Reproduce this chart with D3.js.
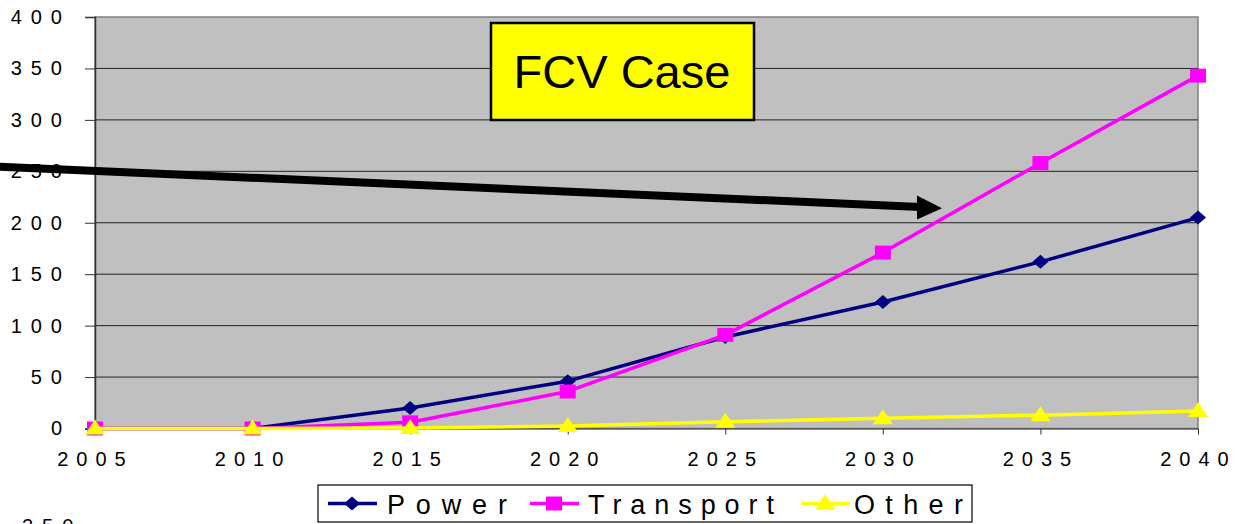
<!DOCTYPE html>
<html><head><meta charset="utf-8">
<script src="https://cdn.jsdelivr.net/npm/d3@7"></script>
<style>
html,body{margin:0;padding:0;background:#fff;}
svg{display:block;font-family:"Liberation Sans",Arial,sans-serif;}
</style></head>
<body><svg id="c" width="1237" height="524"></svg>
<script>
const years = [2005, 2010, 2015, 2020, 2025, 2030, 2035, 2040];
const power = [0, 0, 20, 46, 89, 123, 162, 205];
const transport = [0, 0, 6, 36, 91, 171, 258, 343];
const other = [0, 0, 0.5, 2.5, 6.5, 10, 13, 17];
const yTicks = [0, 50, 100, 150, 200, 250, 300, 350, 400];
const seriesNames = ["Power", "Transport", "Other"];
const titleText = "FCV Case";

const svg = d3.select("#c");
const L = 95, R = 1198, T = 17, B = 428.5;
const x = d3.scaleLinear().domain([2005, 2040]).range([L, R]);
const y = d3.scaleLinear().domain([0, 400]).range([B, T]);

// plot background
svg.append("rect").attr("x", L).attr("y", T).attr("width", R - L).attr("height", B - T)
  .attr("fill", "#C0C0C0").attr("stroke", "#808080").attr("stroke-width", 1.5);

// gridlines
svg.append("g").selectAll("line").data(yTicks.filter(d => d > 0 && d < 400)).join("line")
  .attr("x1", L).attr("x2", R).attr("y1", d => y(d)).attr("y2", d => y(d))
  .attr("stroke", "#222").attr("stroke-width", 1);

// y axis
const ya = svg.append("g").attr("transform", `translate(${L},0)`)
  .call(d3.axisLeft(y).tickValues(yTicks).tickSize(10).tickPadding(14).tickFormat(d => String(d)));
ya.select(".domain").attr("stroke", "#333").attr("stroke-width", 1.5);
ya.selectAll(".tick line").attr("stroke", "#333");
ya.selectAll("text").attr("font-size", 20).attr("fill", "#000")
  .style("letter-spacing", "9px").attr("font-family", "Liberation Sans, Arial, sans-serif");

// x axis
const xa = svg.append("g").attr("transform", `translate(0,${B})`)
  .call(d3.axisBottom(x).tickValues(years).tickSize(6).tickPadding(17).tickFormat(d => String(d)));
xa.select(".domain").attr("stroke", "#333");
xa.selectAll(".tick line").attr("stroke", "#333");
xa.selectAll("text").attr("font-size", 20).attr("fill", "#000")
  .style("letter-spacing", "8px").attr("font-family", "Liberation Sans, Arial, sans-serif");

const line = d3.line().x((d, i) => x(years[i])).y(d => y(d));
const colors = ["#000080", "#FF00FF", "#FFFF00"];
const data = [power, transport, other];

function marker(g, type, cx, cy, color) {
  if (type === 0) {
    g.append("path").attr("d", `M${cx - 8},${cy}L${cx},${cy - 7}L${cx + 8},${cy}L${cx},${cy + 7}Z`).attr("fill", color);
  } else if (type === 1) {
    g.append("rect").attr("x", cx - 8).attr("y", cy - 7).attr("width", 16).attr("height", 14).attr("fill", color);
  } else {
    g.append("path").attr("d", `M${cx},${cy - 9}L${cx + 10},${cy + 6}L${cx - 10},${cy + 6}Z`).attr("fill", color);
  }
}

data.forEach((s, k) => {
  const g = svg.append("g");
  g.append("path").datum(s).attr("d", line).attr("fill", "none")
    .attr("stroke", colors[k]).attr("stroke-width", 3.5).attr("stroke-linejoin", "round");
  s.forEach((v, i) => marker(g, k, x(years[i]), y(v), colors[k]));
});

// title box
svg.append("rect").attr("x", 491).attr("y", 23).attr("width", 263).attr("height", 97)
  .attr("fill", "#FFFF00").attr("stroke", "#000").attr("stroke-width", 2.5);
svg.append("text").attr("x", 622).attr("y", 88).attr("text-anchor", "middle")
  .attr("font-size", 47).attr("fill", "#000").text(titleText);

// arrow
svg.append("line").attr("x1", -5).attr("y1", 166.5).attr("x2", 920).attr("y2", 207)
  .attr("stroke", "#000").attr("stroke-width", 8);
svg.append("path").attr("d", "M917,195.5L942,208.3L917,219.5Z").attr("fill", "#000");

// legend
const lg = svg.append("g");
lg.append("rect").attr("x", 318).attr("y", 485).attr("width", 654).attr("height", 37)
  .attr("fill", "#fff").attr("stroke", "#000").attr("stroke-width", 1.2);
const legX = [328, 530, 801];
const legTextX = [387, 588, 854];
const legTextLen = [120, 186, 109];
seriesNames.forEach((n, k) => {
  const x0 = legX[k];
  lg.append("line").attr("x1", x0).attr("x2", x0 + 49).attr("y1", 503.5).attr("y2", 503.5)
    .attr("stroke", colors[k]).attr("stroke-width", 3.5);
  marker(lg, k, x0 + 24, 503.5, colors[k]);
  lg.append("text").attr("x", legTextX[k]).attr("y", 514).attr("font-size", 27)
    .attr("textLength", legTextLen[k]).attr("lengthAdjust", "spacing")
    .attr("fill", "#000").text(n);
});

// partially visible label of next chart
svg.append("text").attr("x", 22).attr("y", 533).attr("font-size", 20)
  .style("letter-spacing", "9px").attr("fill", "#000").text("250");
</script></body></html>
